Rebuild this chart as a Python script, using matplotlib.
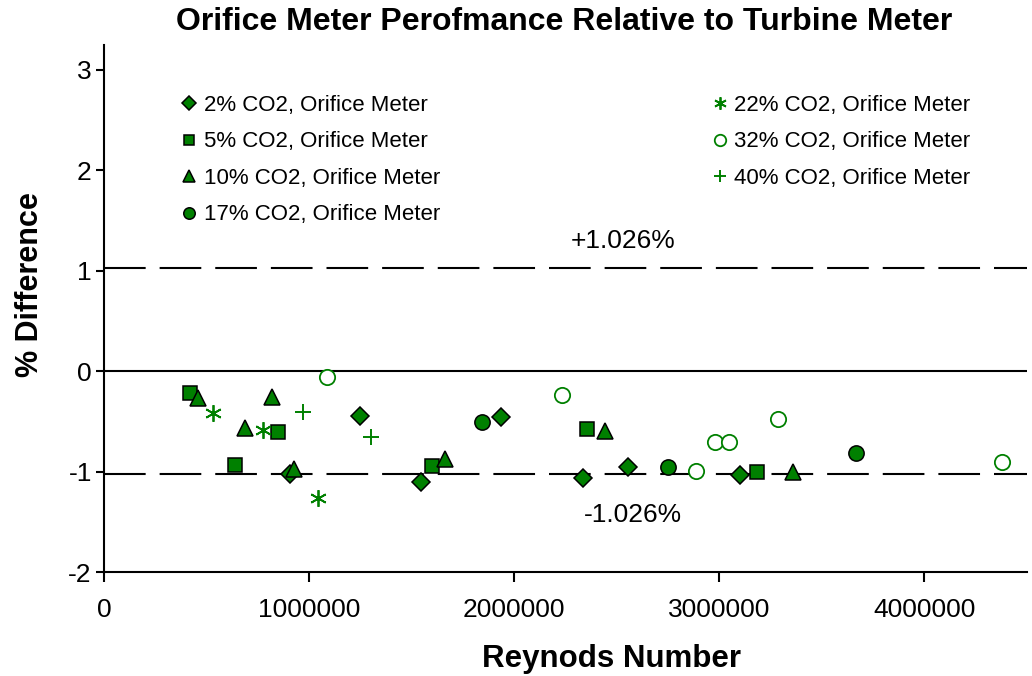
import matplotlib
matplotlib.use("Agg")
import matplotlib.pyplot as plt

plt.rcParams["font.family"] = ["Liberation Sans", "DejaVu Sans"]
plt.rcParams["axes.unicode_minus"] = False

# ── Data ──────────────────────────────────────────────────────────────────────
re_2 = [906000, 1247000, 1545000, 1935000, 2335000, 2555000, 3100000]
dp_2 = [-1.02, -0.45, -1.10, -0.46, -1.06, -0.95, -1.03]

re_5 = [418000, 638000, 847000, 1598000, 2355000, 3184000]
dp_5 = [-0.22, -0.93, -0.61, -0.94, -0.58, -1.00]

re_10 = [458000, 686000, 818000, 925000, 1662000, 2442000, 3360000]
dp_10 = [-0.27, -0.57, -0.26, -0.97, -0.87, -0.60, -1.00]

re_17 = [1842000, 2750000, 3667000]
dp_17 = [-0.51, -0.95, -0.82]

re_22 = [530000, 774000, 1043000]
dp_22 = [-0.42, -0.59, -1.26]

re_32 = [1087000, 2233000, 2886000, 2979000, 3047000, 3286000, 4379000]
dp_32 = [-0.06, -0.24, -0.99, -0.71, -0.71, -0.48, -0.90]

re_40 = [968000, 1300000]
dp_40 = [-0.41, -0.66]

LIMIT = 1.026
x_ticks = [0, 1000000, 2000000, 3000000, 4000000]
x_tick_labels = ["0", "1000000", "2000000", "3000000", "4000000"]
y_ticks = [-2, -1, 0, 1, 2, 3]

GREEN = "#008000"

fig = plt.figure(figsize=(10.32, 6.76), dpi=100)
ax = fig.add_axes([104.3 / 1032, 1 - 572 / 676, 922.5 / 1032, 527.3 / 676])

# reference lines
ax.axhline(0, color="black", lw=1.5, zorder=1)
for v in (LIMIT, -LIMIT):
    ax.axhline(v, color="black", lw=1.5, linestyle=(0, (20, 6.7)), zorder=1)

filled = dict(mfc=GREEN, mec="black", mew=1.1, ls="none", zorder=3)
h2, = ax.plot(re_2, dp_2, marker="D", ms=9.5, **filled)
h5, = ax.plot(re_5, dp_5, marker="s", ms=10.5, **filled)
h10, = ax.plot(re_10, dp_10, marker="^", ms=12, **filled)
h17, = ax.plot(re_17, dp_17, marker="o", ms=11, **filled)
h22, = ax.plot(re_22, dp_22, marker=(6, 2, 0), ms=12, mec=GREEN, mew=1.3,
               ls="none", zorder=3)
h32, = ax.plot(re_32, dp_32, marker="o", ms=11, mfc="white", mec=GREEN,
               mew=1.3, ls="none", zorder=3)
h40, = ax.plot(re_40, dp_40, marker="+", ms=12, mec=GREEN, mew=1.4,
               ls="none", zorder=3)

ax.set_xlim(0, 4500000)
ax.set_ylim(-2, 3.25)
ax.set_xticks(x_ticks)
ax.set_xticklabels(x_tick_labels)
ax.set_yticks(y_ticks)
ax.tick_params(axis="x", direction="out", length=7, width=1.5, labelsize=19, pad=12)
ax.tick_params(axis="y", direction="out", length=6, width=1.5, labelsize=19, pad=3)
for s in ("top", "right"):
    ax.spines[s].set_visible(False)
for s in ("left", "bottom"):
    ax.spines[s].set_linewidth(1.5)

ax.text(2530000, 1.30, "+1.026%", fontsize=19, ha="center", va="center")
ax.text(2580000, -1.43, "-1.026%", fontsize=19, ha="center", va="center")

# legends (two blocks, like the Excel layout)
leg_kw = dict(frameon=False, fontsize=16, handlelength=0.6, handletextpad=0.35,
              labelspacing=0.7, borderpad=0, borderaxespad=0, markerscale=0.75,
              loc="upper left")
leg1 = ax.legend([h2, h5, h10, h17],
                 ["2% CO2, Orifice Meter", "5% CO2, Orifice Meter",
                  "10% CO2, Orifice Meter", "17% CO2, Orifice Meter"],
                 bbox_to_anchor=(0.085, 0.905), **leg_kw)
ax.add_artist(leg1)
ax.legend([h22, h32, h40],
          ["22% CO2, Orifice Meter", "32% CO2, Orifice Meter",
           "40% CO2, Orifice Meter"],
          bbox_to_anchor=(0.66, 0.905), **leg_kw)

fig.text(564 / 1032, 1 - 22 / 676,
         "Orifice Meter Perofmance Relative to Turbine Meter",
         fontsize=23, fontweight="bold", ha="center", va="center")
fig.text(611 / 1032, 1 - 659 / 676, "Reynods Number",
         fontsize=22.5, fontweight="bold", ha="center", va="center")
fig.text(30 / 1032, 1 - 285 / 676, "% Difference", rotation=90,
         fontsize=22, fontweight="bold", ha="center", va="center")

fig.savefig("out.png", dpi=100)
